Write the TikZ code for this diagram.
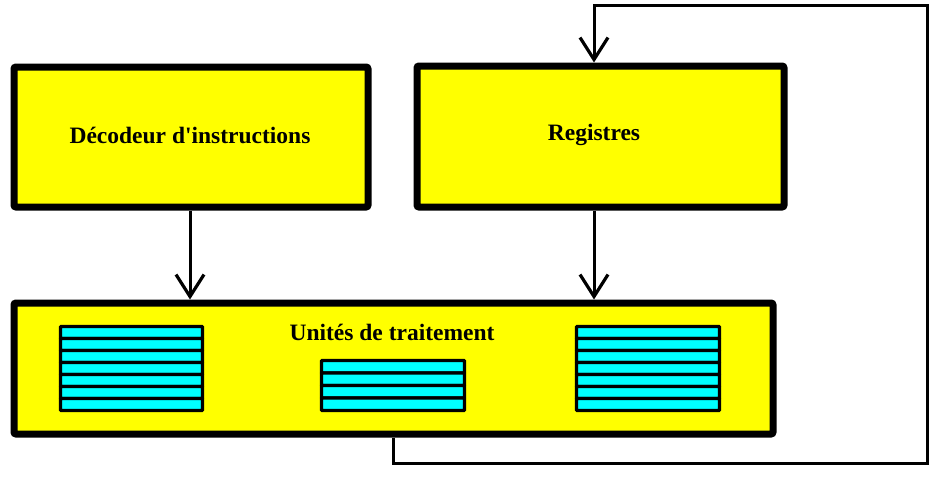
\documentclass[tikz,border=0pt]{standalone}
\usepackage{fontspec}
\setmainfont{Liberation Serif}[Ligatures=TeXOff]
\usetikzlibrary{arrows.meta}
\definecolor{boxyellow}{RGB}{255,255,0}
\definecolor{barcyan}{RGB}{0,255,255}
\tikzset{
  unitbox/.style={draw=black, fill=boxyellow, line width=7pt, rounded corners=2pt,
    inner sep=0pt, outer sep=3.5pt, minimum width=#1},
  unitbox/.default=100pt,
  boxlabel/.style={font=\bfseries\fontsize{23.5}{26}\selectfont, inner sep=0pt},
  bar/.style={draw=black, fill=barcyan, line width=3.3pt, rounded corners=0.8pt},
  flow/.style={draw=black, line width=3pt, line join=miter,
    -{Straight Barb[length=22pt, width=28pt, line width=3.2pt]}},
  wire/.style={draw=black, line width=3pt, line join=miter}
}
\begin{document}
\begin{tikzpicture}[x=1pt, y=-1pt]
  \useasboundingbox (0,0) rectangle (929,493);

  % main blocks
  \node[unitbox=354pt, minimum height=140pt] (dec) at (191,137) {};
  \node[unitbox=367pt, minimum height=141pt] (reg) at (600.5,136.5) {};
  \node[unitbox=759pt, minimum height=131pt] (units) at (393.5,368.5) {};

  % block titles
  \node[boxlabel] (dectxt) at (190,135) {Décodeur d'instructions};
  \node[boxlabel] (regtxt) at (594,135) {Registres};
  \node[boxlabel] (unitstxt) at (392,332) {Unités de traitement};

  % register files inside the processing units
  \foreach \i in {0,...,6} {
    \draw[bar] (60.5,326.5+12*\i) rectangle (202.5,338.5+12*\i);
    \draw[bar] (576.5,326.5+12*\i) rectangle (719.5,338.5+12*\i);
  }
  \foreach \i in {0,...,3} {
    \draw[bar] (321.5,360.5+12.5*\i) rectangle (464.5,373+12.5*\i);
  }

  % forward connections
  \draw[flow] (dectxt |- dec.south) -- (dectxt |- units.north);
  \draw[flow] (regtxt |- reg.south) -- (regtxt |- units.north);

  % write-back loop from the units to the registers
  \coordinate (loopA) at (393,463);
  \coordinate (loopB) at (927,463);
  \coordinate (loopC) at (927,5);
  \coordinate (loopD) at (594,5);
  \draw[flow] (loopA |- units.south) -- (loopA) -- (loopB) -- (loopC) -- (loopD) -- (loopD |- reg.north);
\end{tikzpicture}
\end{document}
